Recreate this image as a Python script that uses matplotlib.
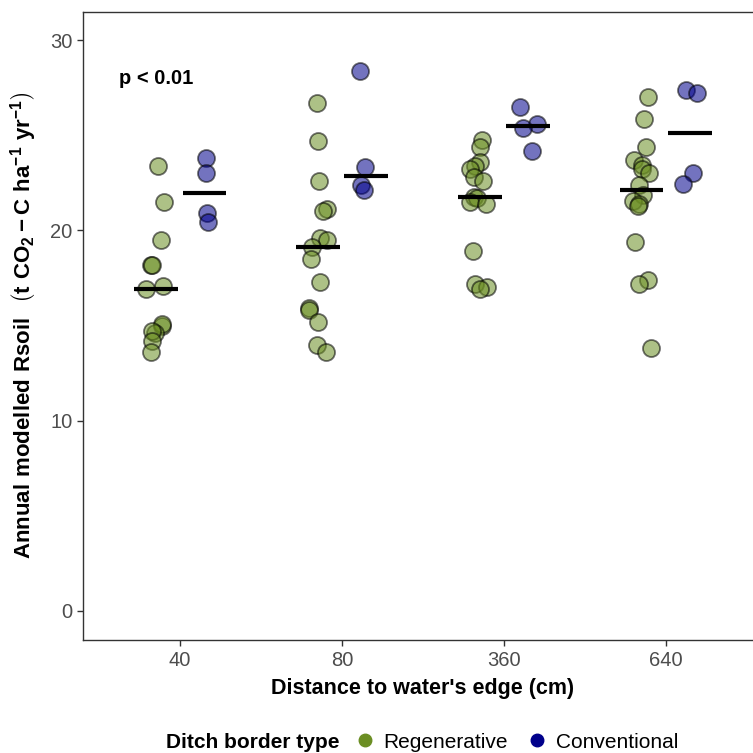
import numpy as np
import matplotlib
matplotlib.use("Agg")
import matplotlib.pyplot as plt
from matplotlib.lines import Line2D

plt.rcParams['font.family'] = ['Liberation Sans', 'DejaVu Sans']
plt.rcParams['mathtext.fontset'] = 'custom'
plt.rcParams['mathtext.rm'] = 'Liberation Sans'
plt.rcParams['mathtext.bf'] = 'Liberation Sans:bold'

# distance categories (cm)
distances = ["40", "80", "360", "640"]

# annual modelled Rsoil per plot
regen_40 = [23.4, 21.5, 19.5, 18.2, 18.2, 17.1, 16.9, 15.0, 15.1, 14.6, 14.7, 14.2, 13.6]
regen_80 = [26.7, 24.7, 22.6, 21.1, 21.0, 19.6, 19.5, 19.1, 18.5, 17.3, 15.9, 15.8, 15.2, 14.0, 13.6]
regen_360 = [24.75, 24.4, 23.6, 23.4, 23.2, 22.8, 22.6, 21.75, 21.7, 21.5, 21.4, 18.9, 17.2, 17.0, 16.9]
regen_640 = [27.0, 25.85, 24.4, 23.7, 23.45, 23.2, 23.0, 22.4, 21.85, 21.55, 21.4, 21.3, 19.4, 17.4, 17.2, 13.8]

conv_40 = [23.8, 23.0, 20.9, 20.45]
conv_80 = [28.35, 23.35, 22.4, 22.1]
conv_360 = [26.5, 25.6, 25.4, 24.15]
conv_640 = [27.35, 27.2, 23.0, 22.45]

regen = [regen_40, regen_80, regen_360, regen_640]
conv = [conv_40, conv_80, conv_360, conv_640]

groups = [("Regenerative", regen, "#6B8E23", -0.15),
          ("Conventional", conv, "#00008B", 0.15)]

fig = plt.figure(figsize=(7.53, 7.53), dpi=100)
# panel runs past the right edge of the image, as in the original
ax = fig.add_axes([83 / 753, 1 - 639.5 / 753, 680 / 753, 628 / 753])

rng = np.random.default_rng(7)
for name, data, color, off in groups:
    for i, vals in enumerate(data):
        vals = np.asarray(vals)
        xs = i + 1 + off + rng.uniform(-0.06, 0.06, len(vals))
        ax.scatter(xs, vals, s=150, color=color, alpha=0.55,
                   edgecolors='black', linewidths=1.3, zorder=2)
        ax.hlines(np.median(vals), i + 1 + off - 0.135, i + 1 + off + 0.135,
                  color='black', lw=3.0, zorder=3)

ax.set_xlim(0.4, 4.6)
ax.set_ylim(-1.5, 31.5)
ax.set_xticks(range(1, 5))
ax.set_xticklabels(distances)
ax.set_yticks([0, 10, 20, 30])

for s in ax.spines.values():
    s.set_color('#333333')
    s.set_linewidth(1.0)
ax.tick_params(colors='#333333', labelcolor='#4D4D4D', labelsize=14.5,
               length=4, width=1.0)
ax.tick_params(axis='x', pad=4)

ax.set_xlabel("Distance to water's edge (cm)", fontsize=15.5, fontweight='bold',
              labelpad=6)
ax.set_ylabel(r"$\mathbf{Annual\ modelled\ Rsoil}\ \ \left(\mathbf{t\ CO_2 - C\ ha^{-1}\ yr^{-1}}\right)$",
              fontsize=16, labelpad=8)

ax.text(0.85, 28.0, "p < 0.01", fontsize=14.5, fontweight='bold',
        ha='center', va='center')

# legend along the bottom
fig.text(166 / 753, 1 - 742 / 753, "Ditch border type", fontsize=15,
         fontweight='bold', ha='left', va='center')
handles = [Line2D([], [], marker='o', ls='none', color=c, markersize=9)
           for _, _, c, _ in groups]
fig.legend(handles, [g[0] for g in groups], loc='center left',
           bbox_to_anchor=(352 / 753, 1 - 742 / 753), ncol=2, frameon=False,
           fontsize=15, handletextpad=0.3, columnspacing=0.8,
           borderaxespad=0, borderpad=0, handlelength=1.2)

fig.savefig("out.png", dpi=100)
